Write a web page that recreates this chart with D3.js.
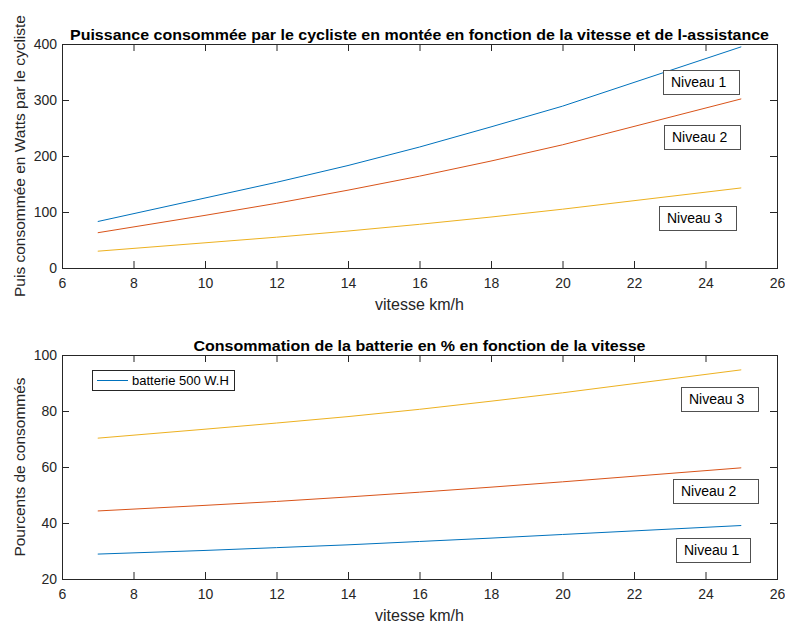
<!DOCTYPE html>
<html>
<head>
<meta charset="utf-8">
<script src="https://cdn.jsdelivr.net/npm/d3@7"></script>
<style>
  html, body { margin: 0; padding: 0; background: #fff; }
  svg { display: block; font-family: "Liberation Sans", Arial, Helvetica, sans-serif; }
</style>
</head>
<body>
<svg id="fig" width="785" height="623"></svg>
<script>
// Vitesse (km/h)
const speeds = [7, 10, 12, 14, 16, 18, 20, 25];

// Puissance consommée par le cycliste (W) selon le niveau d'assistance
const puissanceNiveau1 = [83, 125, 153, 183, 216, 252, 289, 395];
const puissanceNiveau2 = [63, 94, 115.5, 139, 164, 191, 220, 302];
const puissanceNiveau3 = [30, 45, 55, 66, 78, 91, 105, 143];

// Consommation de la batterie 500 W.H (%)
const batterieNiveau1 = [28.9, 30.2, 31.2, 32.2, 33.4, 34.6, 35.9, 39.1];
const batterieNiveau2 = [44.3, 46.3, 47.7, 49.3, 51.0, 52.8, 54.7, 59.7];
const batterieNiveau3 = [70.3, 73.5, 75.7, 78.0, 80.6, 83.5, 86.5, 94.7];

const xTicks = [6, 8, 10, 12, 14, 16, 18, 20, 22, 24, 26];
const yTicksPuissance = [0, 100, 200, 300, 400];
const yTicksBatterie = [20, 40, 60, 80, 100];

const niveauLabels = ["Niveau 1", "Niveau 2", "Niveau 3"];
const legendLabel = "batterie 500 W.H";

// Text boxes placed in data units: [x, y of top edge]
const puissanceNotes = [[22.80, 353.6], [22.85, 255.4], [22.69, 111.3]];
const batterieNotes  = [[23.18, 34.75], [23.10, 55.8], [23.31, 88.46]];
const puissanceNoteWidths = [76, 76, 77];
const batterieNoteWidths  = [74, 85, 77];

const colors = ["#0072BD", "#D95319", "#EDB120"];
const axisColor = "#262626";

const svg = d3.select("#fig");

function drawPanel(opts) {
  const { left, right, top, bottom } = opts.box;
  const x = d3.scaleLinear().domain([6, 26]).range([left, right]);
  const y = d3.scaleLinear().domain(opts.yDomain).range([bottom, top]);
  const g = svg.append("g");

  // lines
  const line = d3.line().x((d, i) => x(speeds[i])).y(d => y(d));
  opts.series.forEach((s, i) => {
    g.append("path")
      .datum(s)
      .attr("d", line)
      .attr("fill", "none")
      .attr("stroke", colors[i])
      .attr("stroke-width", 1);
  });

  // axes (ticks pointing inward on all four sides)
  const styleAxis = sel => {
    sel.select(".domain").remove();
    sel.selectAll(".tick line").attr("stroke", axisColor);
    sel.selectAll(".tick text").attr("fill", axisColor)
      .attr("font-size", 14)
      .attr("font-family", "Liberation Sans, Arial, sans-serif");
  };
  g.append("g").attr("transform", `translate(0,${bottom})`)
    .call(d3.axisBottom(x).tickValues(xTicks).tickSizeInner(-7).tickSizeOuter(0).tickPadding(10))
    .call(styleAxis);
  g.append("g").attr("transform", `translate(0,${top})`)
    .call(d3.axisTop(x).tickValues(xTicks).tickSizeInner(-7).tickSizeOuter(0).tickFormat(""))
    .call(styleAxis);
  g.append("g").attr("transform", `translate(${left},0)`)
    .call(d3.axisLeft(y).tickValues(opts.yTicks).tickSizeInner(-7).tickSizeOuter(0).tickPadding(5))
    .call(styleAxis);
  g.append("g").attr("transform", `translate(${right},0)`)
    .call(d3.axisRight(y).tickValues(opts.yTicks).tickSizeInner(-7).tickSizeOuter(0).tickFormat(""))
    .call(styleAxis);

  g.append("rect")
    .attr("x", left + 0.5).attr("y", top + 0.5)
    .attr("width", right - left).attr("height", bottom - top)
    .attr("fill", "none").attr("stroke", axisColor).attr("stroke-width", 1);

  // title
  g.append("text")
    .attr("x", (left + right) / 2).attr("y", top - 4)
    .attr("text-anchor", "middle")
    .attr("font-weight", "bold").attr("font-size", 15)
    .attr("textLength", opts.titleWidth).attr("lengthAdjust", "spacingAndGlyphs")
    .attr("fill", "#000")
    .text(opts.title);

  // axis labels
  g.append("text")
    .attr("x", (left + right) / 2).attr("y", bottom + 42)
    .attr("text-anchor", "middle").attr("font-size", 16)
    .attr("fill", axisColor)
    .text("vitesse km/h");
  g.append("text")
    .attr("transform", `translate(${left - 37},${(top + bottom) / 2}) rotate(-90)`)
    .attr("text-anchor", "middle").attr("font-size", 15.5)
    .attr("fill", axisColor)
    .text(opts.yLabel);

  // "Niveau" text boxes
  opts.notes.forEach((p, i) => {
    const bx = x(p[0]), by = y(p[1]);
    g.append("rect")
      .attr("x", Math.round(bx) + 0.5).attr("y", Math.round(by) + 0.5)
      .attr("width", opts.noteWidths[i]).attr("height", 24)
      .attr("fill", "#fff").attr("stroke", "#505050").attr("stroke-width", 1);
    g.append("text")
      .attr("x", Math.round(bx) + 8).attr("y", Math.round(by) + 17)
      .attr("font-size", 14).attr("fill", "#000")
      .text(niveauLabels[i]);
  });
  return { g, x, y };
}

drawPanel({
  box: { left: 62, right: 777, top: 44, bottom: 268 },
  yDomain: [0, 400],
  yTicks: yTicksPuissance,
  series: [puissanceNiveau1, puissanceNiveau2, puissanceNiveau3],
  title: "Puissance consommée par le cycliste en montée en fonction de la vitesse et de l-assistance",
  titleWidth: 699,
  yLabel: "Puis consommée en Watts par le cycliste",
  notes: puissanceNotes,
  noteWidths: puissanceNoteWidths
});

const bottomPanel = drawPanel({
  box: { left: 62, right: 777, top: 355, bottom: 579 },
  yDomain: [20, 100],
  yTicks: yTicksBatterie,
  series: [batterieNiveau1, batterieNiveau2, batterieNiveau3],
  title: "Consommation de la batterie en % en fonction de la vitesse",
  titleWidth: 452,
  yLabel: "Pourcents de consommés",
  notes: batterieNotes,
  noteWidths: batterieNoteWidths
});

// legend (first series only)
const lg = bottomPanel.g.append("g").attr("transform", "translate(92,370)");
lg.append("rect")
  .attr("x", 0.5).attr("y", 0.5).attr("width", 142).attr("height", 20)
  .attr("fill", "#fff").attr("stroke", axisColor).attr("stroke-width", 1);
lg.append("line")
  .attr("x1", 5).attr("x2", 36).attr("y1", 10.5).attr("y2", 10.5)
  .attr("stroke", colors[0]).attr("stroke-width", 1);
lg.append("text")
  .attr("x", 40).attr("y", 15)
  .attr("font-size", 13).attr("fill", "#000")
  .text(legendLabel);
</script>
</body>
</html>
